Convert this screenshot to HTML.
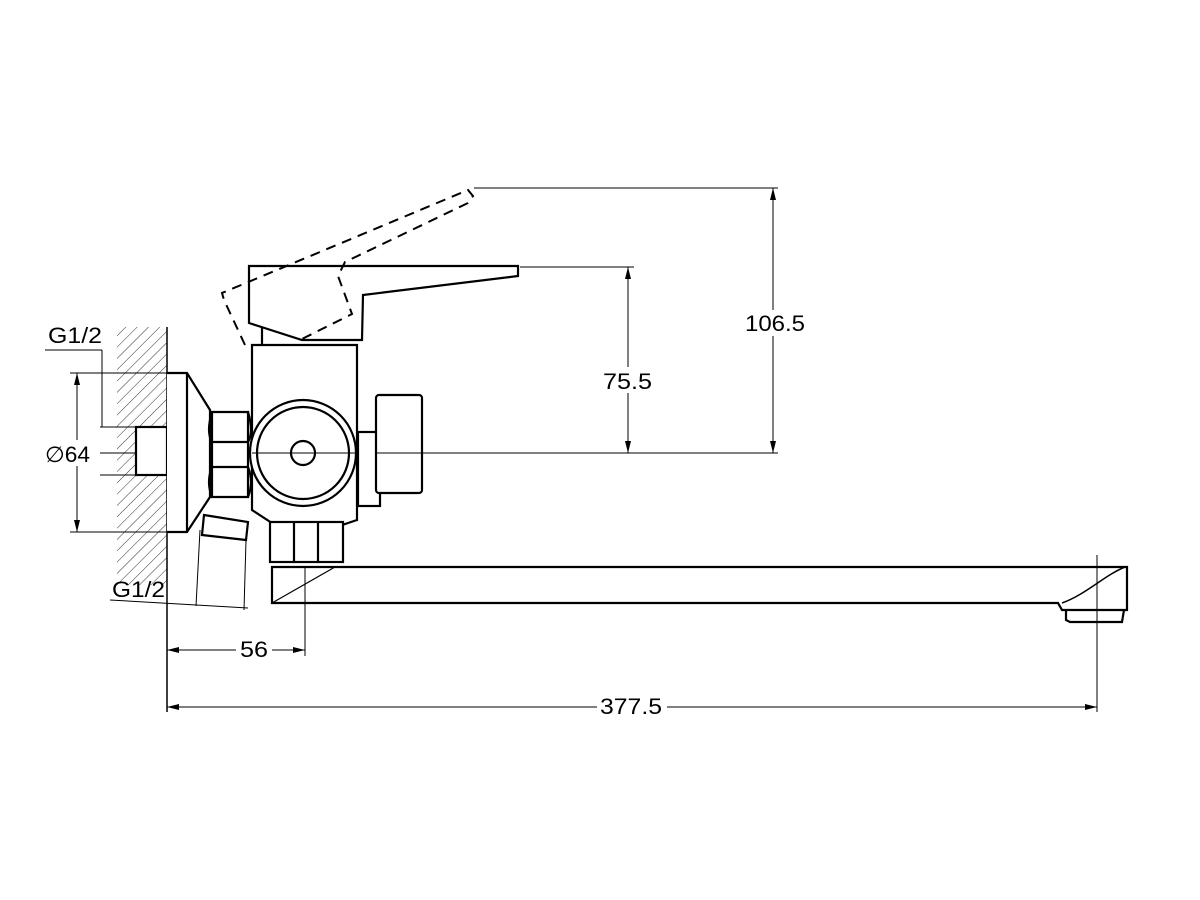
<!DOCTYPE html>
<html><head><style>body{margin:0;background:#fff}svg{display:block}text{font-family:"Liberation Sans",sans-serif;font-size:22px;fill:#000}</style></head>
<body>
<svg width="1200" height="900" viewBox="0 0 1200 900" xmlns="http://www.w3.org/2000/svg">
<defs>
<pattern id="h" width="8" height="8" patternUnits="userSpaceOnUse" patternTransform="rotate(45)">
<line x1="0" y1="0" x2="0" y2="8" stroke="#000" stroke-width="0.8"/></pattern>
<marker id="a" markerWidth="12" markerHeight="6" refX="12" refY="3" orient="auto-start-reverse" markerUnits="userSpaceOnUse"><path d="M0,0 L12,3 L0,6z" fill="#000"/></marker>
</defs>
<g fill="none" stroke="#000">
<rect x="117" y="327" width="50" height="258" fill="url(#h)" stroke="none"/>
<line x1="167" y1="327" x2="167" y2="712" stroke-width="1.5"/>
<line x1="100" y1="453" x2="778" y2="453" stroke-width="1"/>
<g stroke-width="2.2">
<rect x="136" y="427" width="31" height="48" fill="#fff"/>
<path d="M167,373 H187 L210,410 V497 L187,532 H167" fill="#fff"/>
<line x1="187" y1="373" x2="187" y2="532"/>
<path d="M212,412 H248 V497 H212 Z" fill="#fff"/>
<path d="M212,412 q-6,20 0,30 M248,412 q6,20 0,30 M212,442 H248 M212,467 H248 M212,467 q-6,15 0,30 M248,467 q6,15 0,30"/>
<path d="M252,345 H357 V520 L342,525 H275 L252,510 Z" fill="#fff"/>
<line x1="262" y1="327" x2="262" y2="345"/>
<circle cx="303" cy="453" r="53" fill="#fff"/>
<circle cx="303" cy="453" r="46"/>
<circle cx="303" cy="453" r="12"/>
<line x1="252" y1="453" x2="357" y2="453" stroke-width="1"/>
<rect x="358" y="432" width="22" height="74" fill="#fff"/>
<rect x="376" y="395" width="46" height="98" rx="3" fill="#fff"/>
<line x1="376" y1="453" x2="422" y2="453" stroke-width="1"/>
<path d="M204,515 L248,522 L246,540 L202,535 Z" fill="#fff"/>
<rect x="270" y="522" width="73" height="40" fill="#fff"/>
<line x1="294" y1="522" x2="294" y2="562"/><line x1="318" y1="522" x2="318" y2="562"/>
<path d="M272,567 H1127 V610 H1062 L1058,603 H272 Z" fill="#fff"/>
<path d="M272,603 L335,567" stroke-width="1.2"/>
<path d="M1062,603 C1085,595 1105,575 1125,567" stroke-width="1.5"/>
<path d="M1066,610 V620 L1070,622 H1122 L1124,610"/>
<path d="M249,266 H518 V276 L363,295 L362,340 H302 L249,323 Z" fill="#fff"/>
</g>
<g stroke-width="2" stroke-dasharray="10,7">
<path d="M245,345 L224,300 L222,293 L468,190 L473,196 L468,203 L345,262 L338,276 L352,314 L300,340"/>
</g>
<g stroke-width="1">
<line x1="474" y1="188" x2="778" y2="188"/>
<line x1="520" y1="267" x2="634" y2="267"/>
<line x1="773" y1="188" x2="773" y2="453" marker-start="url(#a)" marker-end="url(#a)"/>
<line x1="628" y1="267" x2="628" y2="453" marker-start="url(#a)" marker-end="url(#a)"/>
<line x1="70" y1="373" x2="187" y2="373"/>
<line x1="70" y1="532" x2="187" y2="532"/>
<line x1="77" y1="373" x2="77" y2="532" marker-start="url(#a)" marker-end="url(#a)"/>
<line x1="100" y1="427" x2="136" y2="427"/>
<line x1="100" y1="475" x2="136" y2="475"/>
<line x1="45" y1="350" x2="102" y2="350"/>
<line x1="102" y1="350" x2="102" y2="427"/>
<line x1="110" y1="600" x2="248" y2="608"/>
<line x1="200" y1="530" x2="196" y2="606"/>
<line x1="246" y1="540" x2="244" y2="610"/>
<line x1="305" y1="567" x2="305" y2="656"/>
<line x1="1097" y1="555" x2="1097" y2="712"/>
<line x1="167" y1="650" x2="305" y2="650" marker-start="url(#a)" marker-end="url(#a)"/>
<line x1="167" y1="707" x2="597" y2="707" marker-start="url(#a)"/>
<line x1="667" y1="707" x2="1097" y2="707" marker-end="url(#a)"/>
</g>
</g>
<g fill="#fff">
<rect x="742" y="310" width="66" height="26"/>
<rect x="600" y="367" width="56" height="26"/>
<rect x="42" y="440" width="50" height="26"/>
<rect x="236" y="637" width="36" height="26"/>
</g>
<text x="745" y="331" textLength="60" lengthAdjust="spacingAndGlyphs">106.5</text>
<text x="603" y="389" textLength="49" lengthAdjust="spacingAndGlyphs">75.5</text>
<text x="45" y="462" textLength="45" lengthAdjust="spacingAndGlyphs">∅64</text>
<text x="48" y="343" textLength="54" lengthAdjust="spacingAndGlyphs">G1/2</text>
<text x="112" y="597" textLength="53" lengthAdjust="spacingAndGlyphs">G1/2</text>
<text x="240" y="657" textLength="28" lengthAdjust="spacingAndGlyphs">56</text>
<text x="600" y="714" textLength="62" lengthAdjust="spacingAndGlyphs">377.5</text>
</svg>
</body></html>
